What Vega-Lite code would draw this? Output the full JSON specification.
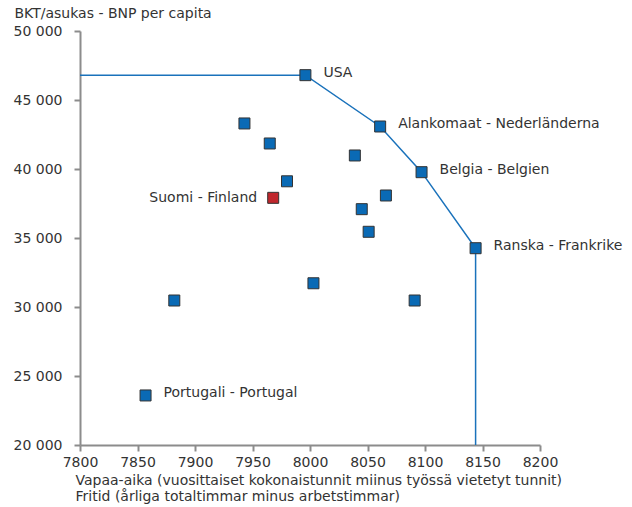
{
  "$schema": "https://vega.github.io/schema/vega-lite/v6.json",
  "width": 460,
  "height": 414,
  "autosize": "none",
  "padding": {"left": 80, "top": 31, "right": 92, "bottom": 62},
  "background": "white",
  "config": {
    "view": {"stroke": null},
    "font": "DejaVu Sans",
    "axis": {
      "grid": false,
      "domainColor": "#8c8c8c",
      "domainWidth": 2,
      "tickColor": "#8c8c8c",
      "tickWidth": 2,
      "tickSize": 6,
      "labelFont": "DejaVu Sans",
      "labelFontSize": 14,
      "labelColor": "#333333",
      "labelFlush": false,
      "labelOverlap": false,
      "labelBound": false,
      "titleFont": "DejaVu Sans",
      "titleFontSize": 14,
      "titleFontWeight": "normal",
      "titleColor": "#333333"
    }
  },
  "datasets": {
    "maat": [
      {"vapaa": 7996, "bkt": 46800, "label": "USA"},
      {"vapaa": 8061, "bkt": 43080, "label": "Alankomaat - Nederländerna"},
      {"vapaa": 8097, "bkt": 39770, "label": "Belgia - Belgien"},
      {"vapaa": 8144, "bkt": 34260, "label": "Ranska - Frankrike"},
      {"vapaa": 7968, "bkt": 37910, "label": "Suomi - Finland"},
      {"vapaa": 7857, "bkt": 23590, "label": "Portugali - Portugal"},
      {"vapaa": 7943, "bkt": 43300, "label": ""},
      {"vapaa": 7965, "bkt": 41850, "label": ""},
      {"vapaa": 7980, "bkt": 39110, "label": ""},
      {"vapaa": 8039, "bkt": 40980, "label": ""},
      {"vapaa": 8066, "bkt": 38080, "label": ""},
      {"vapaa": 8045, "bkt": 37090, "label": ""},
      {"vapaa": 8051, "bkt": 35450, "label": ""},
      {"vapaa": 8003, "bkt": 31720, "label": ""},
      {"vapaa": 7882, "bkt": 30470, "label": ""},
      {"vapaa": 8091, "bkt": 30470, "label": ""}
    ],
    "raja": [
      {"vapaa": 7800, "bkt": 46800, "jarjestys": 1},
      {"vapaa": 7996, "bkt": 46800, "jarjestys": 2},
      {"vapaa": 8061, "bkt": 43080, "jarjestys": 3},
      {"vapaa": 8097, "bkt": 39770, "jarjestys": 4},
      {"vapaa": 8144, "bkt": 34260, "jarjestys": 5},
      {"vapaa": 8144, "bkt": 20000, "jarjestys": 6}
    ]
  },
  "encoding": {
    "x": {
      "field": "vapaa",
      "type": "quantitative",
      "scale": {"domain": [7800, 8200], "nice": false, "zero": false},
      "axis": {
        "values": [7800, 7850, 7900, 7950, 8000, 8050, 8100, 8150, 8200],
        "format": "d",
        "labelPadding": 4,
        "title": ["Vapaa-aika (vuosittaiset kokonaistunnit miinus työssä vietetyt tunnit)", "Fritid (årliga totaltimmar minus arbetstimmar)"],
        "titleAnchor": "start",
        "titleAlign": "left",
        "titleBaseline": "top",
        "titleX": -5,
        "titleY": 28,
        "titleLineHeight": 16
      }
    },
    "y": {
      "field": "bkt",
      "type": "quantitative",
      "scale": {"domain": [20000, 50000], "nice": false, "zero": false},
      "axis": {
        "values": [20000, 25000, 30000, 35000, 40000, 45000, 50000],
        "labelExpr": "replace(format(datum.value, ','), ',', ' ')",
        "labelPadding": 12,
        "title": "BKT/asukas - BNP per capita",
        "titleAngle": 0,
        "titleAlign": "left",
        "titleBaseline": "middle",
        "titleX": -66,
        "titleY": -18
      }
    }
  },
  "layer": [
    {
      "data": {"name": "raja"},
      "mark": {"type": "line", "color": "#1a72bb", "strokeWidth": 1.5},
      "encoding": {"order": {"field": "jarjestys", "type": "quantitative"}}
    },
    {
      "data": {"name": "maat"},
      "mark": {"type": "point", "shape": "square", "filled": true, "size": 121, "stroke": "#333333", "strokeWidth": 1, "opacity": 1},
      "encoding": {
        "color": {
          "condition": {"test": "datum.label === 'Suomi - Finland'", "value": "#c0272d"},
          "value": "#0a6ab5"
        }
      }
    },
    {
      "data": {"name": "maat"},
      "transform": [{"filter": "datum.label !== '' && datum.label !== 'Suomi - Finland'"}],
      "mark": {"type": "text", "align": "left", "baseline": "middle", "dx": 18, "dy": -2, "fontSize": 14, "color": "#333333", "font": "DejaVu Sans"},
      "encoding": {"text": {"field": "label"}}
    },
    {
      "data": {"name": "maat"},
      "transform": [{"filter": "datum.label === 'Suomi - Finland'"}],
      "mark": {"type": "text", "align": "right", "baseline": "middle", "dx": -16, "fontSize": 14, "color": "#333333", "font": "DejaVu Sans"},
      "encoding": {"text": {"field": "label"}}
    }
  ]
}
